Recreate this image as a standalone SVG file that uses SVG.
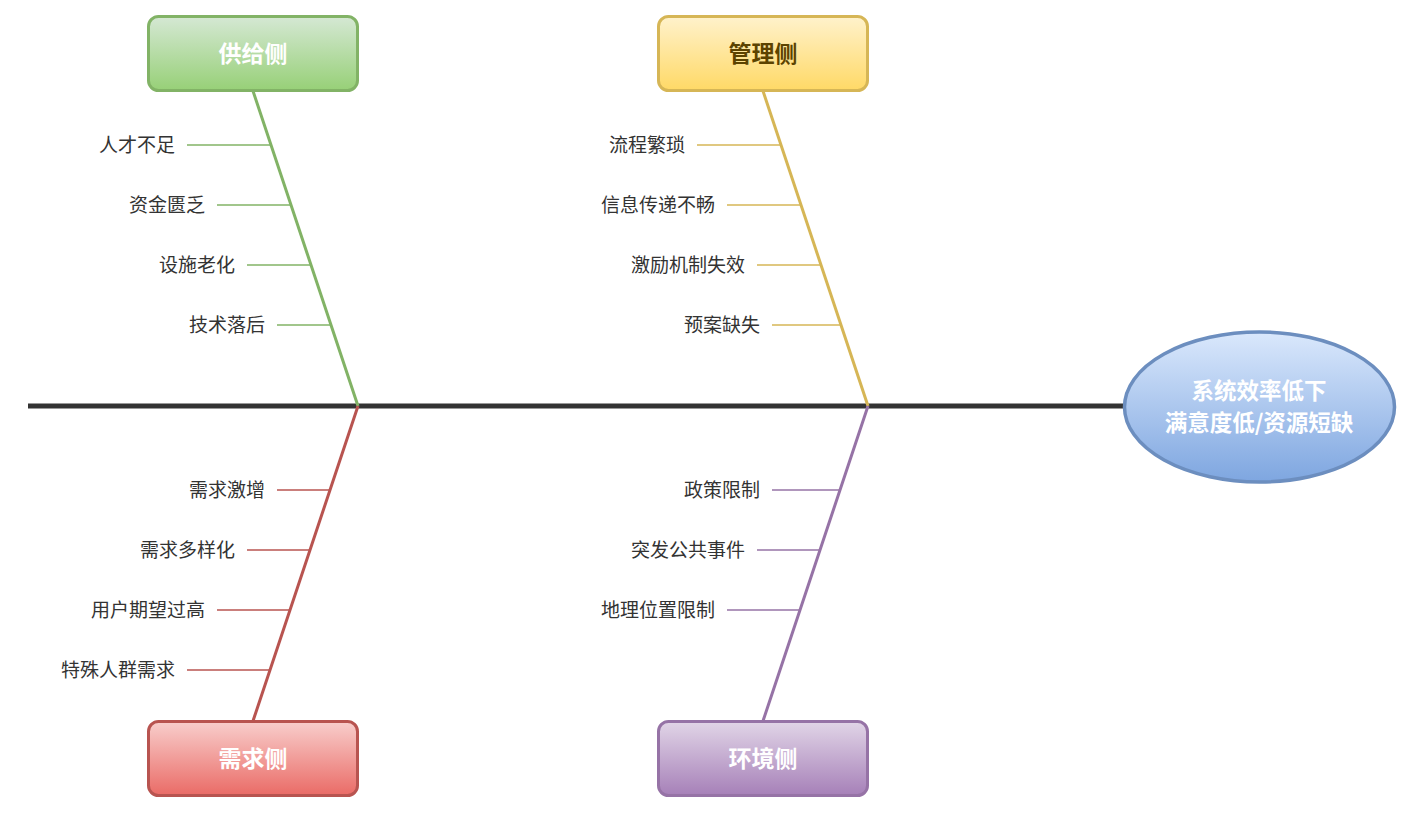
<svg xmlns="http://www.w3.org/2000/svg" width="1412" height="813" viewBox="0 0 1412 813">
<style>
.lbl{font-family:"Noto Sans CJK SC","Liberation Sans",sans-serif;font-size:19px;fill:#333;text-anchor:end;dominant-baseline:central}
.ttl{font-family:"Noto Sans CJK SC","Liberation Sans",sans-serif;font-size:23px;font-weight:bold;text-anchor:middle;dominant-baseline:central}
.res{font-family:"Noto Sans CJK SC","Liberation Sans",sans-serif;font-size:22.5px;font-weight:bold;text-anchor:middle;dominant-baseline:central;fill:#fff}
.rib{stroke-width:1.5;fill:none}
.bone{stroke-width:3;fill:none}
</style>
<defs>
<linearGradient id="gG" x1="0" y1="0" x2="0" y2="1"><stop offset="0" stop-color="#d5e8d4"/><stop offset="1" stop-color="#97d077"/></linearGradient>
<linearGradient id="gY" x1="0" y1="0" x2="0" y2="1"><stop offset="0" stop-color="#fff2cc"/><stop offset="1" stop-color="#ffd966"/></linearGradient>
<linearGradient id="gR" x1="0" y1="0" x2="0" y2="1"><stop offset="0" stop-color="#f8cecc"/><stop offset="1" stop-color="#ea6b66"/></linearGradient>
<linearGradient id="gP" x1="0" y1="0" x2="0" y2="1"><stop offset="0" stop-color="#e1d5e7"/><stop offset="1" stop-color="#a680b8"/></linearGradient>
<linearGradient id="gB" x1="0" y1="0" x2="0" y2="1"><stop offset="0" stop-color="#dae8fc"/><stop offset="1" stop-color="#7ea6e0"/></linearGradient>
</defs>
<g id="connectors">
<line x1="28" y1="406" x2="1125" y2="406" stroke="#333" stroke-width="5"/>
<line class="bone" x1="253" y1="91" x2="358" y2="406" stroke="#82b366"/>
<line class="bone" x1="763" y1="91" x2="868" y2="406" stroke="#d6b656"/>
<line class="bone" x1="358" y1="406" x2="253" y2="721" stroke="#b85450"/>
<line class="bone" x1="868" y1="406" x2="763" y2="721" stroke="#9673a6"/>
<g stroke="#82b366" class="rib">
<line x1="187" y1="145" x2="271" y2="145"/>
<line x1="217" y1="205" x2="291" y2="205"/>
<line x1="247" y1="265" x2="311" y2="265"/>
<line x1="277" y1="325" x2="331" y2="325"/>
</g>
<g stroke="#d6b656" class="rib">
<line x1="697" y1="145" x2="781" y2="145"/>
<line x1="727" y1="205" x2="801" y2="205"/>
<line x1="757" y1="265" x2="821" y2="265"/>
<line x1="772" y1="325" x2="841" y2="325"/>
</g>
<g stroke="#b85450" class="rib">
<line x1="277" y1="490" x2="330" y2="490"/>
<line x1="247" y1="550" x2="310" y2="550"/>
<line x1="217" y1="610" x2="290" y2="610"/>
<line x1="187" y1="670" x2="270" y2="670"/>
</g>
<g stroke="#9673a6" class="rib">
<line x1="772" y1="490" x2="840" y2="490"/>
<line x1="757" y1="550" x2="820" y2="550"/>
<line x1="727" y1="610" x2="800" y2="610"/>
</g>
</g>
<g id="labels">
<text class="lbl" x="175" y="143">人才不足</text>
<text class="lbl" x="205" y="203">资金匮乏</text>
<text class="lbl" x="235" y="263">设施老化</text>
<text class="lbl" x="265" y="323">技术落后</text>
<text class="lbl" x="685" y="143">流程繁琐</text>
<text class="lbl" x="715" y="203">信息传递不畅</text>
<text class="lbl" x="745" y="263">激励机制失效</text>
<text class="lbl" x="760" y="323">预案缺失</text>
<text class="lbl" x="265" y="488">需求激增</text>
<text class="lbl" x="235" y="548">需求多样化</text>
<text class="lbl" x="205" y="608">用户期望过高</text>
<text class="lbl" x="175" y="668">特殊人群需求</text>
<text class="lbl" x="760" y="488">政策限制</text>
<text class="lbl" x="745" y="548">突发公共事件</text>
<text class="lbl" x="715" y="608">地理位置限制</text>
</g>
<g id="supply">
<rect x="148.5" y="16.5" width="209" height="74" rx="10" fill="url(#gG)" stroke="#82b366" stroke-width="3"/>
<text class="ttl" x="253" y="52" fill="#fff">供给侧</text>
</g>
<g id="management">
<rect x="658.5" y="16.5" width="209" height="74" rx="10" fill="url(#gY)" stroke="#d6b656" stroke-width="3"/>
<text class="ttl" x="763" y="52" fill="#5c4300">管理侧</text>
</g>
<g id="demand">
<rect x="148.5" y="721.5" width="209" height="74" rx="10" fill="url(#gR)" stroke="#b85450" stroke-width="3"/>
<text class="ttl" x="253" y="757" fill="#fff">需求侧</text>
</g>
<g id="environment">
<rect x="658.5" y="721.5" width="209" height="74" rx="10" fill="url(#gP)" stroke="#9673a6" stroke-width="3"/>
<text class="ttl" x="763" y="757" fill="#fff">环境侧</text>
</g>
<g id="result">
<ellipse cx="1259.5" cy="407" rx="135" ry="75" fill="url(#gB)" stroke="#6c8ebf" stroke-width="3.5"/>
<text class="res" x="1259" y="389">系统效率低下</text>
<text class="res" x="1259" y="421">满意度低/资源短缺</text>
</g>
</svg>
